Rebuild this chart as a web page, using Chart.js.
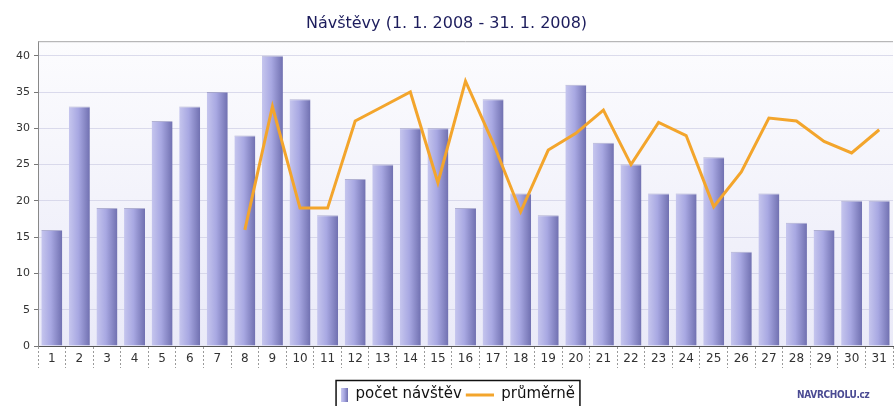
<!DOCTYPE html>
<meta charset="utf-8">
<style>
html, body {
  margin: 0;
  background: #fff;
}

.wrap {
  position: relative;
  width: 895px;
  height: 406px;
  overflow: hidden;
}

.mark {
  position: absolute;
  left: 797px;
  top: 389px;
  font-family: "DejaVu Sans Condensed", "DejaVu Sans", sans-serif;
  font-size: 10px;
  font-weight: bold;
  color: #4a4a92;
  letter-spacing: -0.3px;
}
</style>
<body>

<div class="wrap">
  <canvas id="chart" width="895" height="406"></canvas>
  <div class="mark">NAVRCHOLU.cz</div>
</div>

<script src="https://cdn.jsdelivr.net/npm/chart.js@4/dist/chart.umd.min.js"></script>
<script>
"use strict";

var days = ["1", "2", "3", "4", "5", "6", "7", "8", "9", "10", "11", "12", "13", "14", "15", "16",
  "17", "18", "19", "20", "21", "22", "23", "24", "25", "26", "27", "28", "29", "30", "31"];

var visits = [16, 33, 19, 19, 31, 33, 35, 29, 40, 34, 18, 23, 25, 30, 30, 19,
  34, 21, 18, 36, 28, 25, 21, 21, 26, 13, 21, 17, 16, 20, 20];

var average = [null, null, null, null, null, null, null, 16, 33, 19, 19, 31, 33, 35, 22.5, 36.5,
  28, 18.5, 27, 29.3, 32.5, 25, 30.8, 29, 19.2, 24, 31.4, 31, 28.2, 26.6, 29.8];

var yTicks = [0, 5, 10, 15, 20, 25, 30, 35, 40];

var FONT = "'DejaVu Sans', sans-serif";
var ORANGE = "#f3a52c";

function barGradient(ctx, x0, x1) {
  var g = ctx.createLinearGradient(x0, 0, x1, 0);
  g.addColorStop(0, "#c6c6ee");
  g.addColorStop(0.45, "#a8a8e2");
  g.addColorStop(1, "#7070b0");
  return g;
}

// small legend icons
function barIcon() {
  var c = document.createElement("canvas");
  c.width = 30; c.height = 14;
  var x = c.getContext("2d");
  x.fillStyle = barGradient(x, 23, 30);
  x.fillRect(23, 0, 7, 14);
  return c;
}

function lineIcon() {
  var c = document.createElement("canvas");
  c.width = 30; c.height = 14;
  var x = c.getContext("2d");
  x.fillStyle = ORANGE;
  x.fillRect(2, 6, 28, 3);
  return c;
}

var plotFrame = {
  id: "plotFrame",
  beforeDatasetsDraw: function (chart) {
    var a = chart.chartArea, ctx = chart.ctx;
    ctx.save();
    ctx.strokeStyle = "#a8a8a8";
    ctx.lineWidth = 1;
    ctx.beginPath();
    ctx.moveTo(a.left, a.top + 0.5);
    ctx.lineTo(a.right, a.top + 0.5);
    ctx.stroke();
    ctx.restore();
  },
  beforeDraw: function (chart) {
    var a = chart.chartArea, ctx = chart.ctx;
    var g = ctx.createLinearGradient(0, a.top, 0, a.bottom);
    g.addColorStop(0, "#fcfcfe");
    g.addColorStop(1, "#eaeaf8");
    ctx.save();
    ctx.fillStyle = g;
    ctx.fillRect(a.left, a.top, a.right - a.left, a.bottom - a.top);
    ctx.restore();
  },
  afterDraw: function (chart) {
    var l = chart.legend, ctx = chart.ctx;
    var boxes = l.legendHitBoxes;
    if (!boxes || !boxes.length) return;
    var left = boxes[0].left + 18, right = boxes[boxes.length - 1].left + boxes[boxes.length - 1].width + 5;
    ctx.save();
    ctx.strokeStyle = "#111";
    ctx.lineWidth = 1.5;
    ctx.strokeRect(left, l.top - 4.5, right - left, 32);
    ctx.restore();
  }
};

new Chart(document.getElementById("chart"), {
  type: "bar",
  data: {
    labels: days,
    datasets: [
      {
        label: "počet návštěv",
        data: visits,
        order: 1,
        backgroundColor: function (c) {
          var chart = c.chart;
          if (!chart.chartArea || !chart.scales.x) return "#9a9ad8";
          var half = chart.scales.x.width / days.length * 0.76 / 2;
          var cx = chart.scales.x.getPixelForValue(c.dataIndex);
          return barGradient(chart.ctx, cx - half, cx + half);
        },
        borderColor: "rgba(110,110,170,0.5)",
        borderWidth: { top: 1, left: 0, right: 0, bottom: 0 },
        borderSkipped: "bottom",
        barPercentage: 0.76,
        categoryPercentage: 1
      },
      {
        type: "line",
        label: "průměrně",
        data: average,
        order: 0,
        borderColor: ORANGE,
        borderWidth: 3,
        pointRadius: 0,
        tension: 0,
        spanGaps: false
      }
    ]
  },
  options: {
    responsive: false,
    animation: false,
    layout: { padding: { left: 0, right: 2, top: 10, bottom: -6 } },
    plugins: {
      tooltip: { enabled: false },
      title: {
        display: true,
        text: "Návštěvy (1. 1. 2008 - 31. 1. 2008)",
        color: "#1c1c5c",
        font: { family: FONT, size: 16, weight: "normal" },
        padding: { top: 4, bottom: 8 }
      },
      legend: {
        position: "bottom",
        labels: {
          usePointStyle: true,
          pointStyleWidth: 30,
          boxHeight: 14,
          padding: 2,
          color: "#111",
          font: { family: FONT, size: 15 },
          sort: function (a, b) { return a.datasetIndex - b.datasetIndex; },
          generateLabels: function (chart) {
            return chart.data.datasets.map(function (ds, i) {
              return {
                text: ds.label,
                datasetIndex: i,
                pointStyle: i === 0 ? barIcon() : lineIcon(),
                fillStyle: "transparent",
                strokeStyle: "transparent",
                lineWidth: 0,
                fontColor: "#111"
              };
            });
          }
        }
      }
    },
    scales: {
      x: {
        offset: true,
        grid: {
          offset: true,
          drawOnChartArea: false,
          tickLength: 22,
          tickColor: "#9a9a9a",
          tickBorderDash: [2, 2]
        },
        border: { color: "#555" },
        ticks: {
          padding: -16,
          maxRotation: 0,
          autoSkip: false,
          color: "#333",
          font: { family: FONT, size: 12 }
        },
        afterFit: function (s) { s.height = 39; }
      },
      y: {
        min: 0,
        max: 42,
        afterBuildTicks: function (s) {
          s.ticks = yTicks.map(function (v) { return { value: v }; });
        },
        grid: {
          color: "rgba(205,205,228,0.7)",
          tickColor: "#777",
          tickLength: 4
        },
        border: { color: "#888" },
        ticks: {
          padding: 4,
          color: "#333",
          font: { family: FONT, size: 11 }
        },
        afterFit: function (s) { s.width = 38; }
      }
    }
  },
  plugins: [plotFrame]
});
</script>
</body>
